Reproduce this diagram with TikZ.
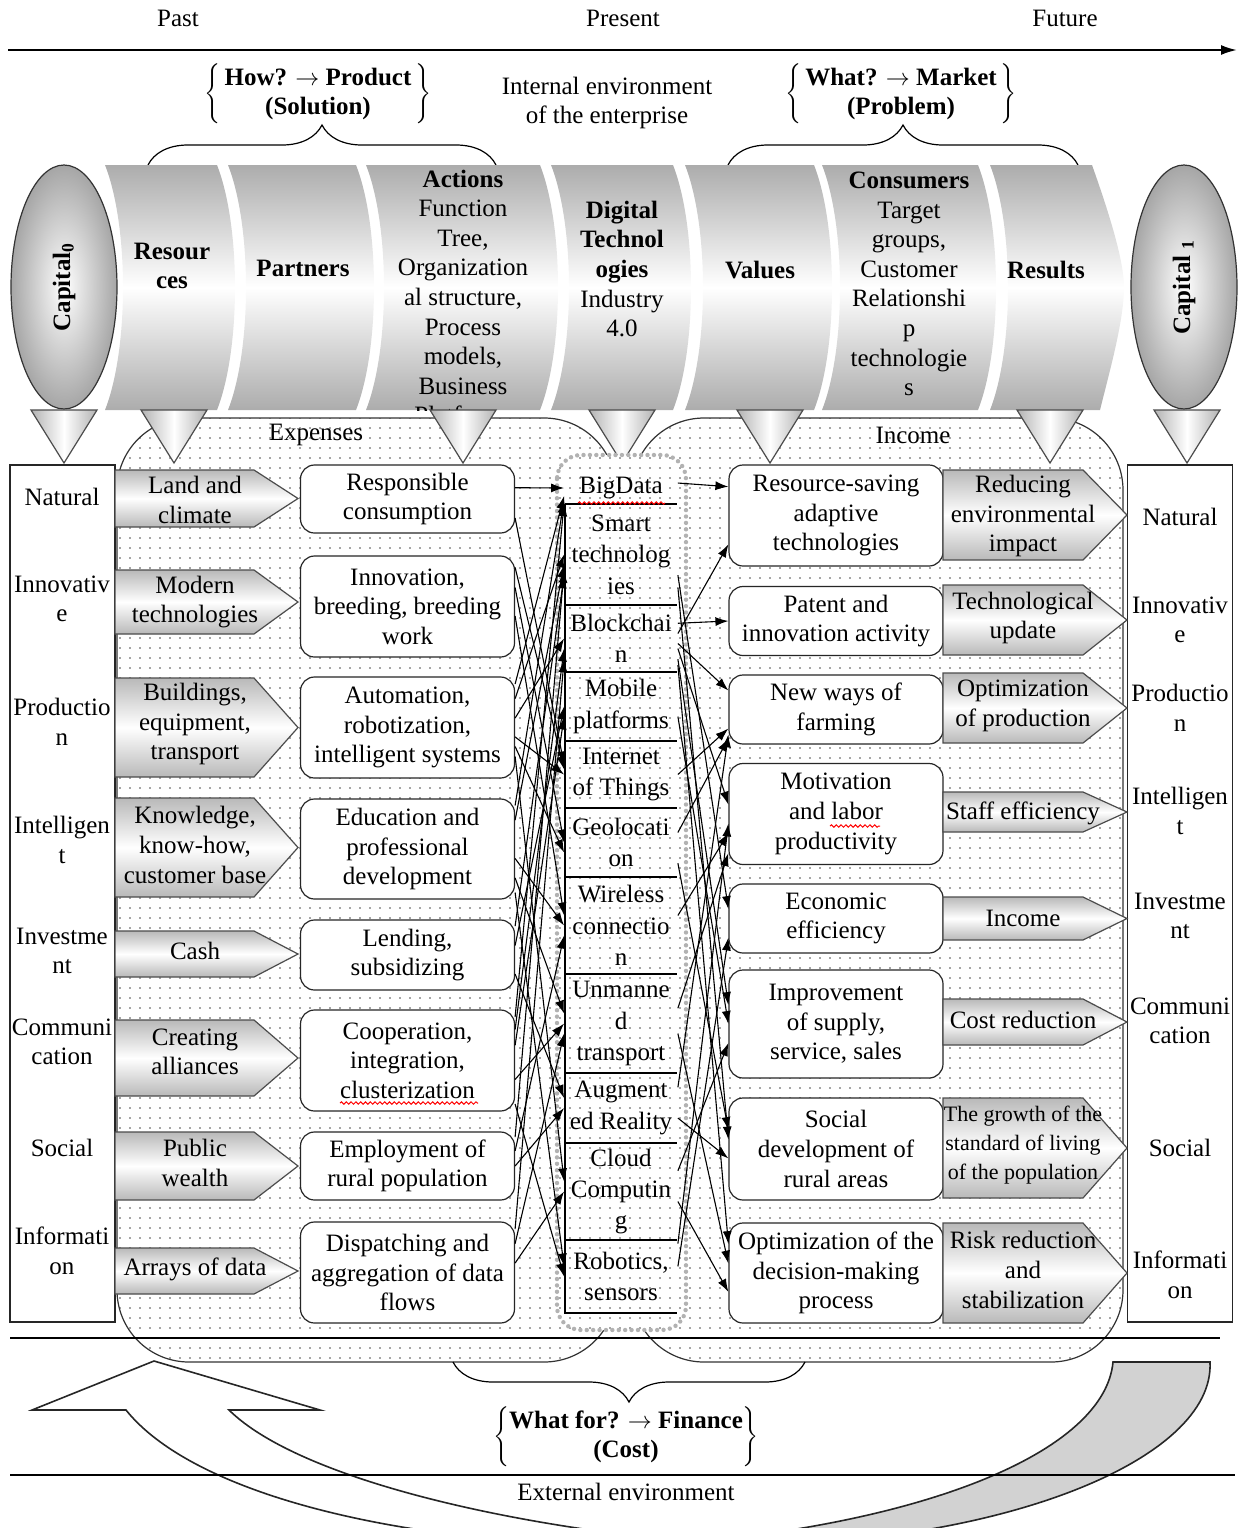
\documentclass[tikz,border=0pt]{standalone}
\usepackage{fontspec}
\setmainfont{Liberation Serif}
\usetikzlibrary{arrows.meta}
\usetikzlibrary{shapes.geometric}
\usetikzlibrary{patterns.meta}
\usetikzlibrary{decorations.pathreplacing}
\usetikzlibrary{decorations.pathmorphing}

% chevron tag: left x, tip x, top y, bottom y
\newcommand{\chev}[4]{%
  \path[tagshade] (#1,#3) -- ({#2-44},#3) -- (#2,{(#3+#4)/2}) -- ({#2-44},#4) -- (#1,#4) -- cycle;}
% one slice of the band: left and right x at the top
\newcommand{\slice}[2]{%
  \path[bandshade] (#1,165) -- (#2,165) .. controls ({#2+24},226) and ({#2+24},349) .. (#2,410)
    -- (#1,410) .. controls ({#1+24},349) and ({#1+24},226) .. (#1,165) -- cycle;}
% funnel under the band
\newcommand{\funnel}[1]{%
  \path[funnelshade] ({#1-33},410) -- ({#1+33},410) -- (#1,463) -- cycle;}

\begin{document}
\begin{tikzpicture}[x=0.5pt,y=-0.5pt]
		\tikzset{every node/.style={font=\fontsize{12.5}{14.8}\selectfont, inner sep=0pt, align=center}}
		\tikzset{bandshade/.style={top color=gray!65, bottom color=gray!65, middle color=white}}
		\tikzset{tagshade/.style={draw=black!70, line width=0.6pt, top color=gray!55, bottom color=gray!55, middle color=white}}
		\tikzset{funnelshade/.style={draw=black!70, line width=0.6pt, left color=gray!60, right color=gray!60, middle color=white}}
		\tikzset{capshade/.style={ellipse, draw=black!80, line width=0.6pt, inner color=white, outer color=gray!70, minimum width=53pt, minimum height=122pt}}
		\tikzset{area/.style={draw=black!80, line width=0.6pt, rounded corners=36pt, preaction={fill=white}, pattern={Dots[distance=5pt, radius=0.45pt]}, pattern color=black!70}}
		\tikzset{column/.style={draw=gray!60, line width=2.2pt, dash pattern=on 0pt off 3.2pt, line cap=round, rounded corners=12pt, preaction={fill=white}, pattern={Dots[distance=5pt, radius=0.45pt]}, pattern color=black!70}}
		\tikzset{box/.style={draw=black!85, line width=0.6pt, rounded corners=7pt, fill=white, minimum width=107pt}}
		\tikzset{capbox/.style={draw=black!85, line width=0.8pt, fill=white, minimum width=52.5pt, minimum height=428.5pt}}
		\tikzset{cell/.style={minimum width=56.5pt, font=\fontsize{12.5}{15.7}\selectfont}}
		\tikzset{flow/.style={-{Latex[length=6.5pt,width=4.5pt]}, line width=0.55pt}}
		\tikzset{brc/.style={decorate, decoration={brace, amplitude=20pt}, line width=0.6pt}}
		\tikzset{spell/.style={red, line width=0.5pt, decorate, decoration={snake, amplitude=0.6pt, segment length=2.4pt}}}
		\useasboundingbox (0,0) rectangle (1238,1528);
		% time axis
		\node (past) at (178,18) {Past};
		\node (present) at (623,18) {Present};
		\node (future) at (1065,18) {Future};
		\coordinate (t0) at (8,50);
		\coordinate (t1) at (1237,50);
		\draw[line width=1pt, -{Latex[length=8pt,width=5pt]}] (t0) -- (t1);
		% questions
		\node (how) at (318,94) {$\left\{\begin{tabular}{@{\,}c@{\,}}\textbf{How? $\rightarrow$ Product}\\ \textbf{(Solution)}\end{tabular}\right\}$};
		\node (inner) at (607,103) {Internal environment\\of the enterprise};
		\node (what) at (901,94) {$\left\{\begin{tabular}{@{\,}c@{\,}}\textbf{What? $\rightarrow$ Market}\\ \textbf{(Problem)}\end{tabular}\right\}$};
		\draw[brc] (148,165) -- (496,165);
		\draw[brc] (728,165) -- (1078,165);
		% band
		\slice{105}{217}
		\slice{228}{356}
		\slice{366}{540}
		\slice{551}{673}
		\slice{685}{814}
		\slice{822}{978}
		\path[bandshade] (990,165) -- (1092,165) .. controls (1108,210) and (1124,260) .. (1124,287)
			.. controls (1124,320) and (1110,370) .. (1100,410) -- (990,410)
			.. controls (1014,349) and (1014,226) .. (990,165) -- cycle;
		\begin{scope}
			\clip (100,165) rectangle (1130,410);
			\node (res) at (172,266) {\textbf{Resour}\\\textbf{ces}};
			\node (par) at (303,268) {\textbf{Partners}};
			\node (act) at (463,297) {\textbf{Actions}\\Function\\Tree,\\Organization\\al structure,\\Process\\models,\\Business\\Platforms};
			\node (dig) at (622,269) {\textbf{Digital}\\\textbf{Technol}\\\textbf{ogies}\\Industry\\4.0};
			\node (val) at (760,270) {\textbf{Values}};
			\node (con) at (909,284) {\textbf{Consumers}\\Target\\groups,\\Customer\\Relationshi\\p\\technologie\\s};
			\node (rsl) at (1046,270) {\textbf{Results}};
		\end{scope}
		% capitals
		\node[capshade] (cap0) at (64,287) {};
		\node[rotate=90] at (cap0) {\textbf{Capital\textsubscript{0}}};
		\node[capshade] (cap1) at (1184,287) {};
		\node[rotate=90] at (cap1) {\textbf{Capital \textsubscript{1}}};
		% expenses and income
		\path[area] (117,418) rectangle (616,1362);
		\path[area] (632,418) rectangle (1123,1362);
		\node (exp) at (316,435) {Expenses};
		\node (inc) at (913,435) {Income};
		\funnel{64}
		\funnel{174}
		\funnel{463}
		\funnel{622}
		\funnel{770}
		\funnel{1050}
		\funnel{1187}
		% technologies
		\path[column] (557,455) rectangle (686,1330);
		\draw[line width=0.8pt] (565,504) -- (565,1313) -- (677,1313);
		\foreach \yy in {504,605,672,741,808,877,974,1073,1143,1240}
			\draw[line width=0.8pt] (565,\yy) -- (677,\yy);
		\node[cell, minimum height=16pt] (c1) at (621,488) {BigData};
		\node[cell, minimum height=50.5pt] (c2) at (621,554.5) {Smart\\technolog\\ies};
		\node[cell, minimum height=33.5pt] (c3) at (621,638.5) {Blockchai\\n};
		\node[cell, minimum height=34.5pt] (c4) at (621,706.5) {Mobile\\platforms};
		\node[cell, minimum height=33.5pt] (c5) at (621,774.5) {Internet\\of Things};
		\node[cell, minimum height=34.5pt] (c6) at (621,842.5) {Geolocati\\on};
		\node[cell, minimum height=48.5pt] (c7) at (621,925.5) {Wireless\\connectio\\n};
		\node[cell, minimum height=49.5pt] (c8) at (621,1023.5) {Unmanne\\d\\transport};
		\node[cell, minimum height=35pt] (c9) at (621,1108) {Augment\\ed Reality};
		\node[cell, minimum height=48.5pt] (c10) at (621,1191.5) {Cloud\\Computin\\g};
		\node[cell, minimum height=36.5pt] (c11) at (621,1276.5) {Robotics,\\sensors};
		\draw[spell] (578,503) -- (665,503);
		% capital structure
		\node[capbox] (capl) at (62.5,893.5) {};
		\node (nl1) at (62,497) {Natural};
		\node (nl2) at (62,599) {Innovativ\\e};
		\node (nl3) at (62,722) {Productio\\n};
		\node (nl4) at (62,840) {Intelligen\\t};
		\node (nl5) at (62,951) {Investme\\nt};
		\node (nl6) at (62,1042) {Communi\\cation};
		\node (nl7) at (62,1148) {Social};
		\node (nl8) at (62,1251) {Informati\\on};
		\node[capbox] (capr) at (1180,893.5) {};
		\node (nr1) at (1180,517) {Natural};
		\node (nr2) at (1180,620) {Innovativ\\e};
		\node (nr3) at (1180,708) {Productio\\n};
		\node (nr4) at (1180,811) {Intelligen\\t};
		\node (nr5) at (1180,916) {Investme\\nt};
		\node (nr6) at (1180,1021) {Communi\\cation};
		\node (nr7) at (1180,1148) {Social};
		\node (nr8) at (1180,1275) {Informati\\on};
		% resources
		\chev{115}{298}{470}{527}
		\chev{115}{298}{570}{634}
		\chev{115}{298}{678}{777}
		\chev{115}{298}{798}{897}
		\chev{115}{298}{931}{977}
		\chev{115}{298}{1020}{1096}
		\chev{115}{298}{1132}{1200}
		\chev{115}{298}{1248}{1294}
		\node (t1) at (195,500) {Land and\\climate};
		\node (t2) at (195,602) {Modern\\technologies};
		\node (t3) at (195,724) {Buildings,\\equipment,\\transport};
		\node (t4) at (195,845) {Knowledge,\\know-how,\\customer base};
		\node (t5) at (195,951) {Cash};
		\node (t6) at (195,1052) {Creating\\alliances};
		\node (t7) at (195,1163) {Public\\wealth};
		\node (t8) at (195,1269) {Arrays of data};
		% partners and actions
		\node[box, minimum height=34pt] (l1) at (407.5,499) {Responsible\\consumption};
		\node[box, minimum height=50.5pt] (l2) at (407.5,606.5) {Innovation,\\breeding, breeding\\work};
		\node[box, minimum height=50.5pt] (l3) at (407.5,727.5) {Automation,\\robotization,\\intelligent systems};
		\node[box, minimum height=50pt] (l4) at (407.5,849) {Education and\\professional\\development};
		\node[box, minimum height=35pt] (l5) at (407.5,955) {Lending,\\subsidizing};
		\node[box, minimum height=50.5pt] (l6) at (407.5,1060.5) {Cooperation,\\integration,\\clusterization};
		\node[box, minimum height=34pt] (l7) at (407.5,1166) {Employment of\\rural population};
		\node[box, minimum height=50.5pt] (l8) at (407.5,1272.5) {Dispatching and\\aggregation of data\\flows};
		\draw[spell] (340,1103) -- (478,1103);
		% values
		\node[box, minimum height=50.5pt] (r1) at (836,515.5) {Resource-saving\\adaptive\\technologies};
		\node[box, minimum height=34.5pt] (r2) at (836,621) {Patent and\\innovation activity};
		\node[box, minimum height=34.5pt] (r3) at (836,709.5) {New ways of\\farming};
		\node[box, minimum height=50.5pt] (r4) at (836,814) {Motivation\\and labor\\productivity};
		\node[box, minimum height=34.5pt] (r5) at (836,918.5) {Economic\\efficiency};
		\node[box, minimum height=54pt] (r6) at (836,1024) {Improvement\\of supply,\\service, sales};
		\node[box, minimum height=51pt] (r7) at (836,1149) {Social\\development of\\rural areas};
		\node[box, minimum height=50pt] (r8) at (836,1273) {Optimization of the\\decision-making\\process};
		\draw[spell] (830,826) -- (880,826);
		% results
		\chev{943}{1127}{470}{560}
		\chev{943}{1127}{585}{655}
		\chev{943}{1127}{673}{743}
		\chev{943}{1127}{792}{832}
		\chev{943}{1127}{897}{940}
		\chev{943}{1127}{999}{1045}
		\chev{943}{1127}{1098}{1198}
		\chev{943}{1127}{1223}{1323}
		\node (rt1) at (1023,516) {Reducing\\environmental\\impact};
		\node (rt2) at (1023,618) {Technological\\update};
		\node (rt3) at (1023,706) {Optimization\\of production};
		\node (rt4) at (1023,813) {Staff efficiency};
		\node (rt5) at (1023,918) {Income};
		\node (rt6) at (1023,1020) {Cost reduction};
		\node[font=\fontsize{11}{14.6}\selectfont] (rt7) at (1023,1145) {The growth of the\\standard of living\\of the population};
		\node (rt8) at (1023,1270) {Risk reduction\\and\\stabilization};
		% links to technologies
		\draw[flow] (l1.6) -- (c1.west);
		\draw[flow] (l1.-10) -- (c5.170);
		\draw[flow] (l2.20) -- (c5.175);
		\draw[flow] (l2.10) -- (c6.west);
		\draw[flow] (l2.-5) -- (c7.170);
		\draw[flow] (l3.22) -- (c1.188);
		\draw[flow] (l3.15) -- (c2.west);
		\draw[flow] (l3.5) -- (c3.west);
		\draw[flow] (l3.-5) -- (c5.west);
		\draw[flow] (l3.-10) -- (c6.190);
		\draw[flow] (l3.-15) -- (c10.170);
		\draw[flow] (l4.22) -- (c1.192);
		\draw[flow] (l4.15) -- (c2.190);
		\draw[flow] (l4.-5) -- (c7.west);
		\draw[flow] (l4.-15) -- (c8.170);
		\draw[flow] (l4.-22) -- (c11.170);
		\draw[flow] (l5.15) -- (c2.200);
		\draw[flow] (l5.5) -- (c4.west);
		\draw[flow] (l5.-10) -- (c9.170);
		\draw[flow] (l6.22) -- (c1.195);
		\draw[flow] (l6.16) -- (c3.190);
		\draw[flow] (l6.8) -- (c4.190);
		\draw[flow] (l6.-10) -- (c8.west);
		\draw[flow] (l6.-22) -- (c11.west);
		\draw[flow] (l7.15) -- (c2.195);
		\draw[flow] (l7.8) -- (c7.190);
		\draw[flow] (l7.0) -- (c9.west);
		\draw[flow] (l8.22) -- (c3.200);
		\draw[flow] (l8.15) -- (c8.190);
		\draw[flow] (l8.5) -- (c10.west);
		% links to values
		\draw[flow] (c1.5) -- (r1.165);
		\draw[flow] (c3.15) -- (r2.west);
		\draw[flow] (c3.5) -- (r1.195);
		\draw[flow] (c3.-5) -- (r3.170);
		\draw[flow] (c3.-10) -- (r4.175);
		\draw[flow] (c2.-20) -- (r5.175);
		\draw[flow] (c3.-20) -- (r6.170);
		\draw[flow] (c2.-30) -- (r7.175);
		\draw[flow] (c3.-25) -- (r8.165);
		\draw[flow] (c5.east) -- (r3.190);
		\draw[flow] (c6.10) -- (r3.195);
		\draw[flow] (c7.10) -- (r4.190);
		\draw[flow] (c8.15) -- (r4.200);
		\draw[flow] (c9.-10) -- (r7.185);
		\draw[flow] (c10.-10) -- (r8.190);
		\draw[flow] (c11.10) -- (r5.190);
		\draw[flow] (c10.20) -- (r6.190);
		\draw[flow] (c8.-10) -- (r8.175);
		\draw[flow] (c4.-10) -- (r6.180);
		\draw[flow] (c6.-20) -- (r7.170);
		\draw[flow] (c11.30) -- (r4.185);
		\draw[flow] (c9.20) -- (r3.193);
		% cycle back
		\path[draw=black!85, line width=0.8pt, fill=white] (126,1410) .. controls (190,1490) and (380,1540) .. (600,1545)
			-- (730,1545) .. controls (520,1530) and (300,1480) .. (229,1410) -- (320,1410) -- (154,1361) -- (32,1410) -- cycle;
		\path[draw=black!85, line width=0.8pt, fill=gray!35] (1113,1362) -- (1210,1362) .. controls (1215,1460) and (1000,1545) .. (740,1545)
			-- (660,1545) .. controls (930,1525) and (1105,1450) .. (1113,1362) -- cycle;
		\draw[line width=0.8pt] (10,1338) -- (1220,1338);
		\draw[line width=0.8pt] (10,1475) -- (1235,1475);
		\draw[brc] (805,1362) -- (453,1362);
		\node (whyf) at (626,1437) {$\left\{\begin{tabular}{@{}c@{}}\textbf{What for? $\rightarrow$ Finance}\\ \textbf{(Cost)}\end{tabular}\right\}$};
		\node (outer) at (626,1492) {External environment};
\end{tikzpicture}
\end{document}
